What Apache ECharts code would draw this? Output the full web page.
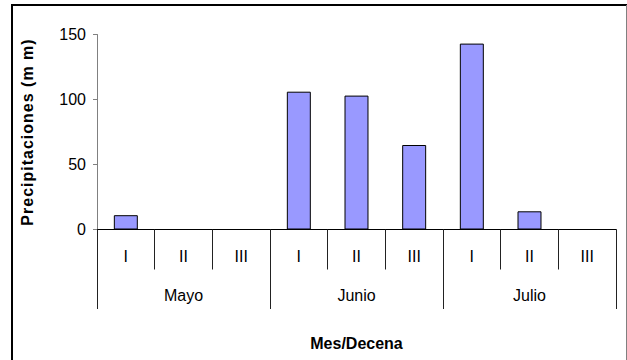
<!DOCTYPE html>
<html>
<head>
<meta charset="utf-8">
<script src="https://cdn.jsdelivr.net/npm/echarts@6/dist/echarts.min.js"></script>
<style>
  html, body { margin: 0; padding: 0; background: #fff; }
  #chart { width: 627px; height: 360px; }
  /* the vertical axis title is drawn with widened tracking */
  #chart text[style*="bold"] { letter-spacing: 1px; }
</style>
</head>
<body>
<div id="chart"></div>
<script>
// Ten-day periods (decenas) within each month
const decenas = ['I', 'II', 'III', 'I', 'II', 'III', 'I', 'II', 'III'];
const meses = ['Mayo', 'Junio', 'Julio'];
// Rainfall per decena, mm
const precipitaciones = [11, 0, 0, 106, 103, 65, 143, 14, 0];
const yTicks = { min: 0, max: 150, interval: 50 };

const chart = echarts.init(document.getElementById('chart'), null, { renderer: 'svg' });
const font = 'Liberation Sans, Arial, sans-serif';

chart.setOption({
  animation: false,
  backgroundColor: '#ffffff',
  graphic: [
    { type: 'line', shape: { x1: 12, y1: 4, x2: 12, y2: 362 }, style: { stroke: '#000', lineWidth: 2 } },
    { type: 'line', shape: { x1: 11, y1: 5, x2: 627, y2: 5 }, style: { stroke: '#000', lineWidth: 2 } },
    { type: 'line', shape: { x1: 626.5, y1: 5, x2: 626.5, y2: 362 }, style: { stroke: '#808080', lineWidth: 1 } }
  ],
  grid: { left: 97, right: 11, top: 34.5, bottom: 130.5, containLabel: false },
  xAxis: [
    {
      type: 'category',
      data: decenas,
      position: 'bottom',
      axisLine: { show: true, lineStyle: { color: '#000', width: 1 } },
      axisTick: { show: true, interval: 0, length: 40, lineStyle: { color: '#222', width: 1 } },
      axisLabel: { interval: 0, margin: 19, color: '#000', fontSize: 16, fontFamily: font },
      name: 'Mes/Decena',
      nameLocation: 'middle',
      nameGap: 106,
      nameTextStyle: { color: '#000', fontSize: 16, fontWeight: 700, fontFamily: font }
    },
    {
      type: 'category',
      data: meses,
      position: 'bottom',
      offset: 0,
      axisLine: { show: false },
      axisTick: { show: true, interval: 0, length: 79.5, lineStyle: { color: '#222', width: 1 } },
      axisLabel: { interval: 0, margin: 58, color: '#000', fontSize: 16, fontFamily: font }
    }
  ],
  yAxis: {
    type: 'value',
    min: yTicks.min,
    max: yTicks.max,
    interval: yTicks.interval,
    axisLine: { show: true, lineStyle: { color: '#808080', width: 1 } },
    axisTick: { show: true, length: 4, lineStyle: { color: '#808080' } },
    splitLine: { show: false },
    axisLabel: { margin: 11, color: '#000', fontSize: 16, fontFamily: font },
    name: 'Precipitaciones (m m)',
    nameLocation: 'middle',
    nameRotate: 90,
    nameGap: 62,
    nameTextStyle: { color: '#000', fontSize: 16, fontWeight: 'bold', fontFamily: font }
  },
  series: [
    {
      type: 'bar',
      xAxisIndex: 0,
      data: precipitaciones,
      barWidth: '41.6%',
      itemStyle: { color: '#9999ff', borderColor: '#000', borderWidth: 1 }
    }
  ]
});
</script>
</body>
</html>
